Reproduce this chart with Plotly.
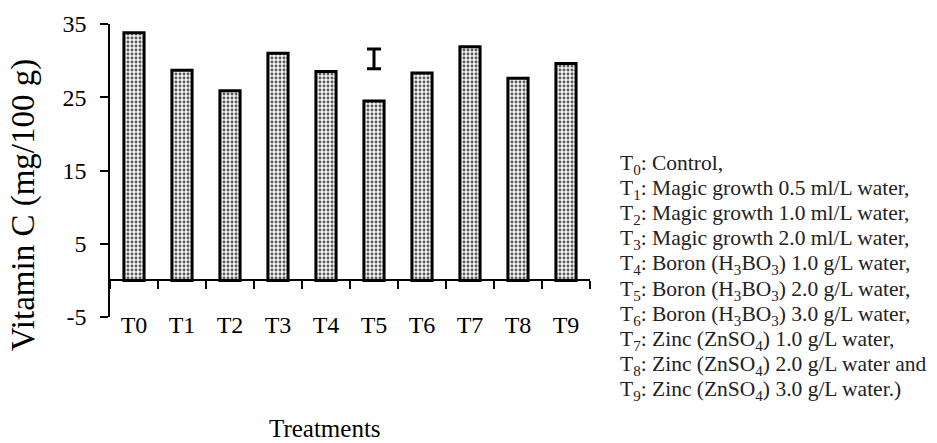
import plotly.graph_objects as go

# ---- data ----
treatments = ["T0", "T1", "T2", "T3", "T4", "T5", "T6", "T7", "T8", "T9"]
vitamin_c = [33.8, 28.7, 25.9, 31.0, 28.5, 24.5, 28.3, 31.9, 27.6, 29.6]
lsd_category = ["T5"]
lsd_center = [30.25]
lsd_half = [1.35]
y_tick_vals = [-5, 5, 15, 25, 35]
y_tick_text = ["-5", "5", "15", "25", "35"]
legend_lines = [
    "T<sub>0</sub>: Control,",
    "T<sub>1</sub>: Magic growth 0.5 ml/L water,",
    "T<sub>2</sub>: Magic growth 1.0 ml/L water,",
    "T<sub>3</sub>: Magic growth 2.0 ml/L water,",
    "T<sub>4</sub>: Boron (H<sub>3</sub>BO<sub>3</sub>) 1.0 g/L water,",
    "T<sub>5</sub>: Boron (H<sub>3</sub>BO<sub>3</sub>) 2.0 g/L water,",
    "T<sub>6</sub>: Boron (H<sub>3</sub>BO<sub>3</sub>) 3.0 g/L water,",
    "T<sub>7</sub>: Zinc (ZnSO<sub>4</sub>) 1.0 g/L water,",
    "T<sub>8</sub>: Zinc (ZnSO<sub>4</sub>) 2.0 g/L water and",
    "T<sub>9</sub>: Zinc (ZnSO<sub>4</sub>) 3.0 g/L water.)",
]
y_title = "Vitamin C (mg/100 g)"
x_title = "Treatments"

# ---- layout geometry (pixels) ----
W, H = 937, 443
L, R, T, B = 110, 347, 24, 126
plot_w = W - L - R
plot_h = H - T - B
y_min, y_max = -5, 35
FONT = "Liberation Serif"


def px_x(xp):
    return (xp - L) / plot_w


def px_y(yp):
    return (H - B - yp) / plot_h


fig = go.Figure()

fig.add_trace(go.Bar(
    x=treatments,
    y=vitamin_c,
    marker=dict(
        color="#f2f2f2",
        line=dict(color="black", width=3),
        pattern=dict(shape=".", fgcolor="#5a5a5a", bgcolor="#f2f2f2",
                     size=4, solidity=0.4, fillmode="replace"),
    ),
    hoverinfo="x+y",
    showlegend=False,
))

fig.add_trace(go.Scatter(
    x=lsd_category,
    y=lsd_center,
    mode="markers",
    marker=dict(size=1, color="rgba(0,0,0,0)"),
    error_y=dict(type="data", array=lsd_half, visible=True,
                 color="black", thickness=3, width=7),
    showlegend=False,
    hoverinfo="skip",
))

zero_pos = (0 - y_min) / (y_max - y_min)

fig.update_layout(
    width=W, height=H,
    margin=dict(l=L, r=R, t=T, b=B, pad=0),
    paper_bgcolor="white",
    plot_bgcolor="white",
    bargap=0.58,
    font=dict(family=FONT, color="black"),
    xaxis=dict(
        type="category",
        range=[-0.5, len(treatments) - 0.5],
        anchor="free",
        position=zero_pos,
        showline=True, linecolor="black", linewidth=1.5,
        ticks="outside", ticklen=8, tickwidth=1.5, tickcolor="black",
        tickson="boundaries",
        ticklabelstandoff=23,
        tickfont=dict(family=FONT, size=24, color="black"),
        showgrid=False, zeroline=False,
        fixedrange=True,
    ),
    yaxis=dict(
        range=[y_min, y_max],
        tickvals=y_tick_vals, ticktext=y_tick_text,
        showline=True, linecolor="black", linewidth=1.5,
        ticks="outside", ticklen=8, tickwidth=1.5, tickcolor="black",
        ticklabelstandoff=9,
        tickfont=dict(family=FONT, size=24, color="black"),
        showgrid=False, zeroline=False,
        fixedrange=True,
    ),
)

annotations = []
annotations.append(dict(
    text=y_title, textangle=-90, showarrow=False,
    xref="paper", yref="paper", x=px_x(23), y=px_y(205),
    xanchor="center", yanchor="middle",
    font=dict(family=FONT, size=33, color="black"),
))
annotations.append(dict(
    text=x_title, showarrow=False,
    xref="paper", yref="paper", x=px_x(325), y=px_y(428),
    xanchor="center", yanchor="middle",
    font=dict(family=FONT, size=25, color="black"),
))
leg_x = 618
leg_y0 = 164
leg_dy = 25.2
for i, line in enumerate(legend_lines):
    annotations.append(dict(
        text=line, showarrow=False,
        xref="paper", yref="paper", x=px_x(leg_x), y=px_y(leg_y0 + i * leg_dy),
        xanchor="left", yanchor="middle",
        font=dict(family=FONT, size=21.5, color="#222222"),
    ))
fig.update_layout(annotations=annotations)

fig.write_html("out.html", config={"displayModeBar": False},
               post_script="document.body.style.margin='0';")
